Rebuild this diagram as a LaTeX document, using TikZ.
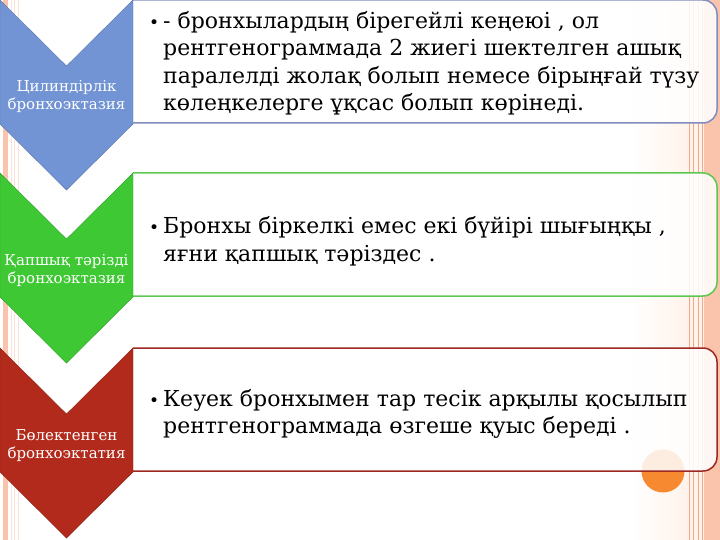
\documentclass[tikz,border=0pt]{standalone}
\usepackage{fontspec}
\setmainfont{DejaVu Serif}
\usetikzlibrary{backgrounds}

\definecolor{chevblue}{RGB}{114,148,212}
\definecolor{chevgreen}{RGB}{62,200,52}
\definecolor{chevred}{RGB}{178,42,28}
\definecolor{boxblue}{RGB}{128,140,190}
\definecolor{boxgreen}{RGB}{92,200,80}
\definecolor{boxred}{RGB}{158,40,34}
\definecolor{stripe}{RGB}{250,196,172}
\definecolor{stripeline}{RGB}{242,168,140}
\definecolor{peach}{RGB}{255,240,230}
\definecolor{dot}{RGB}{247,138,48}

\begin{document}
\begin{tikzpicture}
	[x=1pt, y=-1pt,
	 boxtext/.style={anchor=west, align=left, font=\fontsize{22}{27.5}\selectfont, text=black, inner sep=0pt},
	 chevtext/.style={align=center, font=\fontsize{15}{18}\selectfont, text=white, inner sep=0pt}]

	\useasboundingbox (0,0) rectangle (720,540);
	\fill[white] (0,0) rectangle (720,540);

	% side stripes
	\fill[stripe] (3,0) rectangle (8,540);
	\foreach \x in {11,14,18}
	\draw[stripe!50, line width=0.8pt] (\x,0) -- (\x,540);
	\shade[left color=white, right color=peach] (630,0) rectangle (704,540);
	\foreach \x in {689,693,698,702}
	\draw[stripeline, line width=1pt] (\x,0) -- (\x,540);
	\fill[stripe] (704,0) rectangle (720,540);

	\fill[dot] (663,471) circle (21.5);

	% boxes and chevrons
	\foreach \yo/\col/\edge in {0/chevblue/boxblue, 173/chevgreen/boxgreen, 348/chevred/boxred}
	{
	\filldraw[fill=white, fill opacity=0.85, draw=\edge, line width=1.5pt, rounded corners=14pt]
		(133,\yo+123) -- (717,\yo+123) -- (717,\yo) -- (133,\yo);
	\filldraw[fill=\col, draw=\col!80!black, line width=0.4pt]
		(0,\yo) -- (66.5,\yo+66) -- (133,\yo) -- (133,\yo+124) -- (66.5,\yo+190) -- (0,\yo+124) -- cycle;
	}

	\node[chevtext] (cyl) at (66.5,97) {Цилиндірлік\\бронхоэктазия};
	\node[chevtext] (sac) at (66.5,271) {Қапшық тәрізді\\бронхоэктазия};
	\node[chevtext] (cyst) at (66.5,446) {Бөлектенген\\бронхоэктатия};

	\node[boxtext] (cyltext) at (163,63) {\llap{{\fontsize{17}{17}\selectfont •}\hspace{4pt}}- бронхылардың бірегейлі кеңеюі , ол\\рентгенограммада 2 жиегі шектелген ашық\\паралелді жолақ болып немесе бірыңғай түзу\\көлеңкелерге ұқсас болып көрінеді.};
	\node[boxtext] (sactext) at (163,241) {\llap{{\fontsize{17}{17}\selectfont •}\hspace{4pt}}Бронхы біркелкі емес екі бүйірі шығыңқы ,\\яғни қапшық тәріздес .};
	\node[boxtext] (cysttext) at (163,414) {\llap{{\fontsize{17}{17}\selectfont •}\hspace{4pt}}Кеуек бронхымен тар тесік арқылы қосылып\\рентгенограммада өзгеше қуыс береді .};
\end{tikzpicture}
\end{document}
